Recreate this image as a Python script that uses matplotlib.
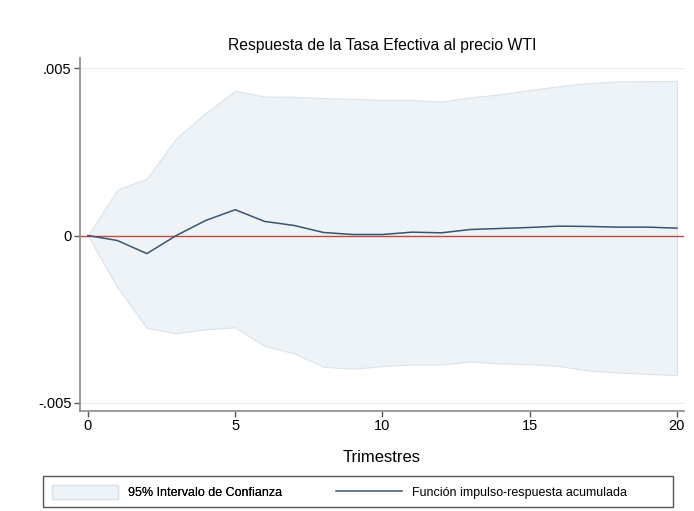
import numpy as np
import matplotlib
matplotlib.use("Agg")
import matplotlib.pyplot as plt
from matplotlib.patches import Patch, Rectangle
from matplotlib.lines import Line2D

plt.rcParams['font.family'] = ['Liberation Sans', 'DejaVu Sans']

# Horizonte (trimestres) y respuesta acumulada con su intervalo al 95%
trimestres = list(range(21))
irf = [0.0, -0.00015, -0.00054, 0.0, 0.00045, 0.00077, 0.00042, 0.0003, 0.00009,
       0.00003, 0.00003, 0.0001, 0.00008, 0.00018, 0.00021, 0.00024, 0.00028,
       0.00027, 0.00025, 0.00025, 0.00022]
ic_sup = [0.0, 0.00137, 0.0017, 0.0029, 0.00366, 0.00432, 0.00415, 0.00414, 0.0041,
          0.00408, 0.00405, 0.00405, 0.004, 0.00412, 0.00422, 0.00434, 0.00446,
          0.00455, 0.0046, 0.00461, 0.00461]
ic_inf = [0.0, -0.00155, -0.00276, -0.00292, -0.0028, -0.00274, -0.0033, -0.00352,
          -0.00392, -0.00398, -0.0039, -0.00385, -0.00385, -0.00376, -0.00382,
          -0.00384, -0.0039, -0.00403, -0.00409, -0.00413, -0.00417]
y_ticks = [-0.005, 0, 0.005]
y_labels = ['-.005', '0', '.005']

color_banda = '#eef3f7'
borde_banda = '#d9e3eb'
color_linea = '#3a5470'
color_cero = '#bb4a3f'

W, H = 694, 511
fig = plt.figure(figsize=(W / 100, H / 100), dpi=100)
ax = fig.add_axes([80 / W, 1 - 411 / H, 604 / W, 353 / H])

ax.fill_between(trimestres, ic_inf, ic_sup, facecolor=color_banda,
                edgecolor=borde_banda, linewidth=0.8, zorder=1)
ax.plot(trimestres, irf, color=color_linea, linewidth=1.1, zorder=3)
ax.axhline(0, color=color_cero, linewidth=1.0, zorder=2)

ax.set_xlim(-0.27, 20.24)
ax.set_ylim(-0.00524, 0.0053)
ax.set_xticks([0, 5, 10, 15, 20])
ax.set_yticks(y_ticks)
ax.set_yticklabels(y_labels)
ax.yaxis.grid(True, color='#eaeaea', linewidth=0.8, zorder=0)
ax.set_axisbelow(True)

for s in ['top', 'right']:
    ax.spines[s].set_visible(False)
for s in ['left', 'bottom']:
    ax.spines[s].set_color('#8a8a8a')
    ax.spines[s].set_linewidth(1.2)
ax.tick_params(axis='both', colors='#555555', labelcolor='black',
               labelsize=10.5, length=4, width=1, pad=2)

ax.set_title('Respuesta de la Tasa Efectiva al precio WTI', fontsize=11.3, pad=6)
ax.set_xlabel('Trimestres', fontsize=12, labelpad=12)

# Leyenda: marco y las dos entradas
y_ley = 1 - 492 / H
fig.patches.append(Rectangle((43 / W, 1 - 507 / H), 630 / W, 31 / H,
                             transform=fig.transFigure, fill=False,
                             edgecolor='#555555', linewidth=1.0))
opciones = dict(loc='center left', frameon=False, fontsize=9, handlelength=5.3,
                handleheight=1.3, handletextpad=0.8, borderpad=0, borderaxespad=0)
ley1 = fig.legend([Patch(facecolor=color_banda, edgecolor=borde_banda)],
                  ['95% Intervalo de Confianza'],
                  bbox_to_anchor=(52 / W, y_ley), **opciones)
fig.add_artist(ley1)
fig.legend([Line2D([0], [0], color=color_linea, linewidth=1.1)],
           ['Función impulso-respuesta acumulada'],
           bbox_to_anchor=(336 / W, y_ley), **opciones)

fig.savefig('out.png', dpi=100)
